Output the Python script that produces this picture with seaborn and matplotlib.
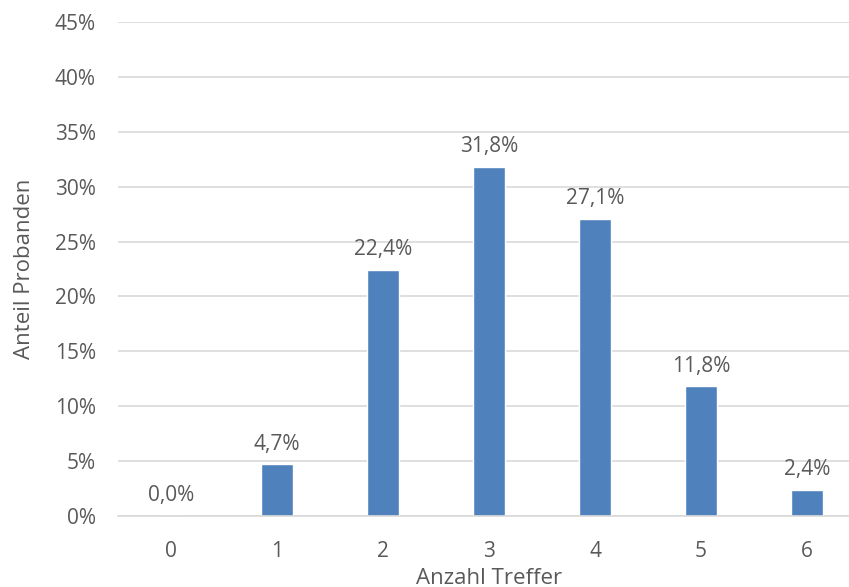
import numpy as np
import pandas as pd
import seaborn as sns
import matplotlib.pyplot as plt
from matplotlib.ticker import FuncFormatter

treffer = ['0', '1', '2', '3', '4', '5', '6']
anteil = [0.0, 4.7, 22.4, 31.8, 27.1, 11.8, 2.4]

df = pd.DataFrame({'treffer': treffer, 'anteil': anteil})

sns.set_theme(style='white')
plt.rcParams['font.family'] = ['Open Sans', 'DejaVu Sans']
grau = '#595959'

fig = plt.figure(figsize=(8.49, 5.87), dpi=100)
ax = fig.add_axes([118/849, 71/587, 742/849, 494/587])

sns.barplot(data=df, x='treffer', y='anteil', color='#4F81BD',
            width=0.31, saturation=1, ax=ax)

ax.set_ylim(0, 45)
ax.set_yticks(np.arange(0, 46, 5))
ax.yaxis.set_major_formatter(FuncFormatter(lambda v, p: f'{int(v)}%'))
ax.grid(axis='y', color='#D9D9D9', linewidth=1.2)
ax.set_axisbelow(True)
for s in ['top', 'right', 'left']:
    ax.spines[s].set_visible(False)
ax.spines['bottom'].set_color('#D9D9D9')
ax.spines['bottom'].set_linewidth(1.2)
ax.tick_params(axis='both', length=0, labelsize=15, colors=grau)
ax.tick_params(axis='x', pad=18)
ax.tick_params(axis='y', pad=16)

ax.bar_label(ax.containers[0],
             labels=[f'{v:.1f}%'.replace('.', ',') for v in anteil],
             padding=7, fontsize=15, color=grau)

ax.set_xlabel('Anzahl Treffer', fontsize=16, color=grau, labelpad=4)
ax.set_ylabel('Anteil Probanden', fontsize=16, color=grau, labelpad=14)

fig.savefig('out.png', dpi=100)
